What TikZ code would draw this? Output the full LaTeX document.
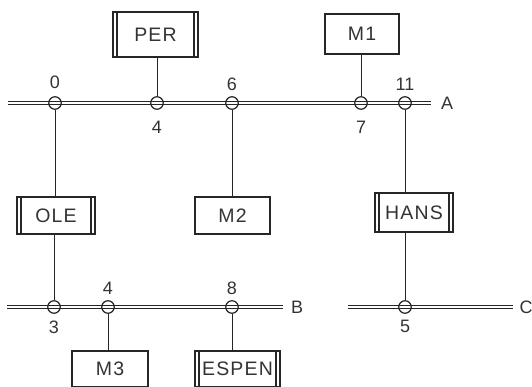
\documentclass[tikz,border=0pt]{standalone}
\usepackage{fontspec}
\setmainfont{Liberation Sans}
\newfontfamily\boxfont[LetterSpace=6]{Liberation Sans}
\begin{document}
\begin{tikzpicture}[x=1pt,y=-1pt,
  box/.style={draw=black!85, line width=1.7pt, inner sep=0pt, text=black!80,
    font=\boxfont\fontsize{19.5}{22}\selectfont},
  dbl/.style={box, path picture={
    \draw[black!85, line width=1.2pt]
      ([xshift=4pt]path picture bounding box.north west) -- ([xshift=4pt]path picture bounding box.south west)
      ([xshift=-4pt]path picture bounding box.north east) -- ([xshift=-4pt]path picture bounding box.south east);}},
  bus/.style={draw=black!85, double=white, line width=0.9pt, double distance=2.2pt},
  tap/.style={circle, draw=black!85, line width=1.2pt, minimum size=12.5pt, inner sep=0pt},
  lbl/.style={text=black!80, font=\fontsize{18}{20}\selectfont, inner sep=0pt},
  wire/.style={draw=black!85, line width=1pt},
  busname/.style={text=black!80, font=\fontsize{18}{20}\selectfont, inner sep=0pt}
]
\useasboundingbox (0,0) rectangle (532,387);

% buses
\coordinate (a0) at (8,103); \coordinate (a1) at (431,103);
\coordinate (b0) at (7,307); \coordinate (b1) at (283,307);
\coordinate (c0) at (348,307); \coordinate (c1) at (513,307);
\draw[bus] (a0) -- (a1);
\draw[bus] (b0) -- (b1);
\draw[bus] (c0) -- (c1);
\node[busname] (lA) at (447,103) {A};
\node[busname] (lB) at (297,307) {B};
\node[busname] (lC) at (526,307) {C};

% taps
\node[tap] (t0) at (55,103) {};
\node[tap] (t4) at (157,103) {};
\node[tap] (t6) at (232,103) {};
\node[tap] (t7) at (361,103) {};
\node[tap] (t11) at (405,103) {};
\node[tap] (s3) at (54,307) {};
\node[tap] (s4) at (108,307) {};
\node[tap] (s8) at (232,307) {};
\node[tap] (s5) at (405,307) {};

\node[lbl] (n0) at (55,82) {0};
\node[lbl] (n4) at (157,127) {4};
\node[lbl] (n6) at (232,84) {6};
\node[lbl] (n7) at (361,127) {7};
\node[lbl] (n11) at (405,84) {11};
\node[lbl] (m3) at (54,327) {3};
\node[lbl] (m4) at (108,288) {4};
\node[lbl] (m8) at (232,288) {8};
\node[lbl] (m5) at (405,326) {5};

% boxes
\node[dbl, minimum width=85pt, minimum height=45pt] (per) at (155.5,34.5) {PER};
\node[box, minimum width=74pt, minimum height=40pt] (m1) at (362,34) {M1};
\node[dbl, minimum width=78pt, minimum height=37pt] (ole) at (56,215.5) {OLE};
\node[box, minimum width=75pt, minimum height=37pt] (m2) at (232.5,215.5) {M2};
\node[dbl, minimum width=78pt, minimum height=39pt] (hans) at (414,212.5) {HANS};
\node[box, minimum width=76pt, minimum height=36pt] (mm3) at (110,369) {M3};
\node[dbl, minimum width=85pt, minimum height=36pt] (espen) at (237.5,369) {ESPEN};

% connectors
\draw[wire] (t4.north) -- (t4 |- per.south);
\draw[wire] (t7.north) -- (t7 |- m1.south);
\draw[wire] (t0.south) -- (t0 |- ole.north);
\draw[wire] (t6.south) -- (t6 |- m2.north);
\draw[wire] (t11.south) -- (t11 |- hans.north);
\draw[wire] (s3 |- ole.south) -- (s3.north);
\draw[wire] (s5 |- hans.south) -- (s5.north);
\draw[wire] (s4.south) -- (s4 |- mm3.north);
\draw[wire] (s8.south) -- (s8 |- espen.north);
\end{tikzpicture}
\end{document}
